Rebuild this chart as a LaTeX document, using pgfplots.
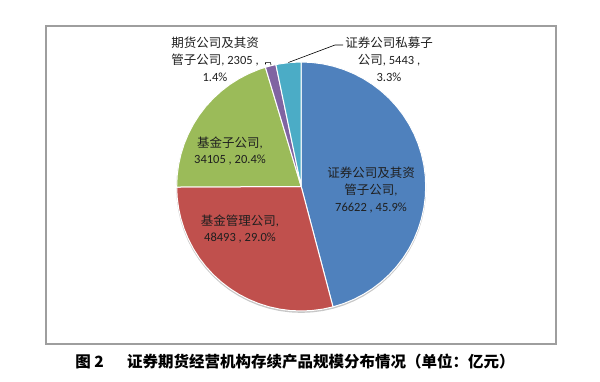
\documentclass[border=0pt]{standalone}
\usepackage{pgfplots}
\pgfplotsset{compat=1.18}
\usepgfplotslibrary{polar}
\usepackage{fontspec}
\setmainfont{Carlito}
\newfontfamily\cjk{Noto Sans CJK SC}
\definecolor{cBlue}{HTML}{4F81BD}
\definecolor{cRed}{HTML}{C0504D}
\definecolor{cGreen}{HTML}{9BBB59}
\definecolor{cPurple}{HTML}{8064A2}
\definecolor{cTeal}{HTML}{4BACC6}
\newcommand{\C}[1]{{\cjk #1}}
\begin{document}
\begin{tikzpicture}[x=1pt,y=1pt]
\path[use as bounding box] (0,0) rectangle (600,382);
\draw[color=black!38, line width=1.1pt] (46,38) rectangle (556,356);
\begin{polaraxis}[at={(301.2pt,195.5pt)}, anchor=center, scale only axis,
  width=249pt, height=249pt, hide axis, ymin=0, ymax=1, xmin=0, xmax=360, clip=false]
% shadow
\addplot[fill=black!22, draw=none, yshift=-1.4pt] coordinates {
(0,1.004)(5,1.004)(10,1.004)(15,1.004)(20,1.004)(25,1.004)(30,1.004)(35,1.004)(40,1.004)(45,1.004)(50,1.004)(55,1.004)(60,1.004)(65,1.004)(70,1.004)(75,1.004)(80,1.004)(85,1.004)(90,1.004)(95,1.004)(100,1.004)(105,1.004)(110,1.004)(115,1.004)(120,1.004)(125,1.004)(130,1.004)(135,1.004)(140,1.004)(145,1.004)(150,1.004)(155,1.004)(160,1.004)(165,1.004)(170,1.004)(175,1.004)(180,1.004)(185,1.004)(190,1.004)(195,1.004)(200,1.004)(205,1.004)(210,1.004)(215,1.004)(220,1.004)(225,1.004)(230,1.004)(235,1.004)(240,1.004)(245,1.004)(250,1.004)(255,1.004)(260,1.004)(265,1.004)(270,1.004)(275,1.004)(280,1.004)(285,1.004)(290,1.004)(295,1.004)(300,1.004)(305,1.004)(310,1.004)(315,1.004)(320,1.004)(325,1.004)(330,1.004)(335,1.004)(340,1.004)(345,1.004)(350,1.004)(355,1.004)(360,1.004)};
% blue 76622
\addplot[fill=cBlue, draw=white, line width=1pt, line join=round] coordinates {
(0,0)(-75.204,1)(-70,1)(-65,1)(-60,1)(-55,1)(-50,1)(-45,1)(-40,1)(-35,1)(-30,1)(-25,1)(-20,1)(-15,1)(-10,1)(-5,1)(0,1)(5,1)(10,1)(15,1)(20,1)(25,1)(30,1)(35,1)(40,1)(45,1)(50,1)(55,1)(60,1)(65,1)(70,1)(75,1)(80,1)(85,1)(90,1)(0,0)};
% red 48493
\addplot[fill=cRed, draw=white, line width=1pt, line join=round] coordinates {
(0,0)(180.24,1)(185,1)(190,1)(195,1)(200,1)(205,1)(210,1)(215,1)(220,1)(225,1)(230,1)(235,1)(240,1)(245,1)(250,1)(255,1)(260,1)(265,1)(270,1)(275,1)(280,1)(284.796,1)(0,0)};
% green 34105
\addplot[fill=cGreen, draw=white, line width=1pt, line join=round] coordinates {
(0,0)(106.705,1)(110,1)(115,1)(120,1)(125,1)(130,1)(135,1)(140,1)(145,1)(150,1)(155,1)(160,1)(165,1)(170,1)(175,1)(180,1)(180.24,1)(0,0)};
% purple 2305
\addplot[fill=cPurple, draw=white, line width=1pt, line join=round] coordinates {
(0,0)(101.735,1)(104,1)(106.705,1)(0,0)};
% teal 5443
\addplot[fill=cTeal, draw=white, line width=1pt, line join=round] coordinates {
(0,0)(90,1)(95,1)(100,1)(101.735,1)(0,0)};
\end{polaraxis}
\tikzset{lbl/.style={align=center, text=black!88, font=\fontsize{12.5}{16.7}\selectfont, inner sep=0pt}}
\node[lbl] at (215,322.7) {\C{期货公司及其资}\\\C{管子公司}, 2305 ,\\1.4\%};
\node[lbl] at (389,322.7) {\C{证券公司私募子}\\\C{公司}, 5443 ,\\3.3\%};
\node[lbl] at (230,231) {\C{基金子公司},\\34105 , 20.4\%};
\node[lbl] at (371,192) {\C{证券公司及其资}\\\C{管子公司},\\76622 , 45.9\%};
\node[lbl] at (240,153) {\C{基金管理公司},\\48493 , 29.0\%};
\draw[black, line width=0.6pt] (265.5,317.5) -- (265.5,319.3) -- (270.5,319.3) -- (271,317);
\draw[black, line width=0.6pt] (343,337) -- (335,337) -- (288.4,319.5);
\node[font=\cjk\bfseries\fontsize{15.5}{18}\selectfont, inner sep=0pt] at (295,20) {图 2\hspace{1.5em}证券期货经营机构存续产品规模分布情况（单位：亿元）};
\end{tikzpicture}
\end{document}
